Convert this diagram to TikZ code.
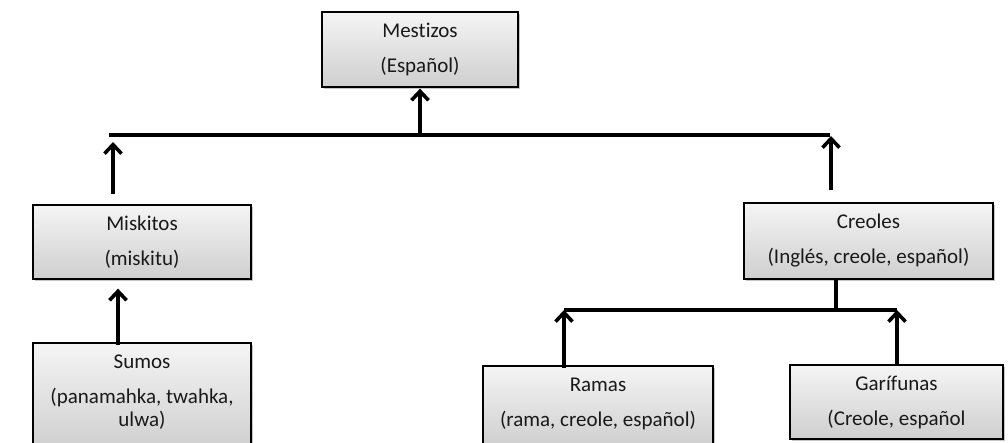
\documentclass[tikz,border=0pt]{standalone}
\usepackage{fontspec}
\setmainfont[Ligatures={NoCommon}]{Carlito}
\usetikzlibrary{arrows.meta,shadows}
\newcommand{\bxt}[4]{\parbox[c][#2][t]{#1}{\centering\rule{0pt}{25pt}#3\\[14pt]#4}}
\tikzset{
  gbox/.style={draw=black, line width=1.3pt, inner sep=0pt, top color=gray!8, bottom color=gray!38,
    drop shadow={opacity=0.45, shadow xshift=2pt, shadow yshift=-2pt},
    font=\fontsize{21}{21}\selectfont, text=black!90},
  conn/.style={line width=3.8pt, draw=black},
  arr/.style={conn, -{Straight Barb[length=9pt,width=17pt,line width=3.6pt]}}
}
\begin{document}
\begin{tikzpicture}[x=1pt,y=-1pt]
\clip (0,0) rectangle (1008,442);
\fill[white] (0,0) rectangle (1008,442);
% boxes
\node[gbox] (mest) at (420,49.5) {\bxt{196pt}{75pt}{Mestizos}{(Español)}};
\node[gbox] (misk) at (142,242) {\bxt{218pt}{74pt}{Miskitos}{(miskitu)}};
\node[gbox] (sumo) at (142,396.5) {\bxt{218pt}{107pt}{Sumos}{(panamahka, twahka,\\[2pt]ulwa)}};
\node[gbox] (creo) at (868.5,241) {\bxt{249pt}{76pt}{Creoles}{(Inglés, creole, español)}};
\node[gbox] (rama) at (598,406) {\bxt{230pt}{80pt}{Ramas}{(rama, creole, español)}};
\node[gbox] (gari) at (896.5,402) {\bxt{213pt}{74pt}{Garífunas}{(Creole, español}};
% top bar
\coordinate (tl) at (109,135);
\coordinate (tr) at (830,135);
\coordinate (tm) at (420,135);
\draw[conn] (tl) -- (tr);
\draw[arr] (tm) -- ([yshift=-1pt]mest.south);
\coordinate (la) at (113,194);
\coordinate (lt) at (113,142);
\coordinate (ra) at (831,190);
\coordinate (rt) at (831,136);
\draw[arr] (la) -- (lt);
\draw[arr] (ra) -- (rt);
% sumos to miskitos
\draw[arr] ([yshift=-3pt]sumo.north -| 118,0) -- ([yshift=-9pt]misk.south -| 118,0);
% creoles bar
\coordinate (cb) at (836,310);
\coordinate (bl) at (564,310);
\coordinate (br) at (897,310);
\draw[conn] (creo.south -| cb) -- (cb);
\draw[conn] (bl) -- (br);
\draw[arr] ([yshift=-3pt]rama.north -| bl) -- (bl);
\draw[arr] ([yshift=-2pt]gari.north -| br) -- (br);
\end{tikzpicture}
\end{document}
